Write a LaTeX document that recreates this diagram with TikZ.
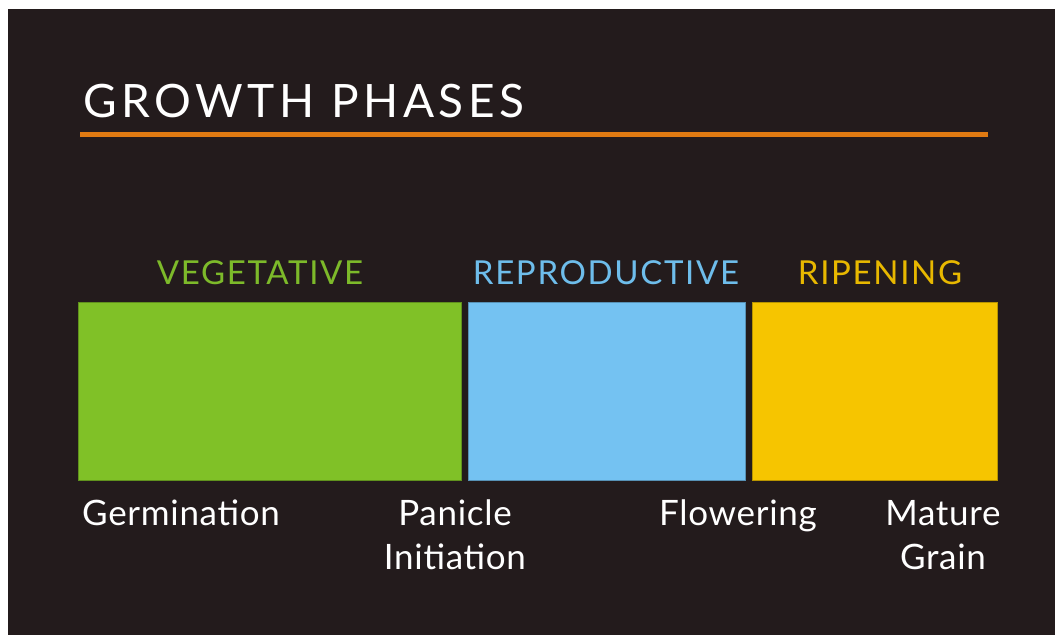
\documentclass[tikz,border=0pt]{standalone}
\usepackage{fontspec}
\setmainfont{Lato}
\usetikzlibrary{positioning}
\definecolor{bgdark}{RGB}{35,27,28}
\definecolor{rulecol}{RGB}{224,122,18}
\definecolor{vegcol}{RGB}{128,193,39}
\definecolor{repcol}{RGB}{116,194,242}
\definecolor{ripcol}{RGB}{246,197,0}
\definecolor{vegtext}{RGB}{125,186,42}
\definecolor{reptext}{RGB}{110,189,235}
\definecolor{riptext}{RGB}{232,184,0}
\tikzset{
	every node/.style = {font=\fontsize{35}{44}\selectfont\addfontfeatures{LetterSpace=2}, text=white, inner sep=0pt},
	phasebox/.style = {draw=#1!75!black, fill=#1, line width=1pt, outer sep=0pt, minimum height=178pt},
	phasetitle/.style = {anchor=base, font=\fontsize{33}{40}\selectfont\addfontfeatures{LetterSpace=5}},
	stage/.style = {align=center, anchor=base}
}

\begin{document}
\begin{tikzpicture}[x=1pt,y=-1pt]
	\fill[white] (0,0) rectangle (1055,635);
	\fill[bgdark] (8,9) rectangle (1055,635);
	\useasboundingbox (0,0) rectangle (1055,635);

	% title and rule
	\node[anchor=base west, font=\fontsize{46}{50}\selectfont\addfontfeatures{LetterSpace=10}] (title) at (83,117) {GROWTH PHASES};
	\draw[rulecol, line width=5pt] (80,134) -- (988,134);

	% phase boxes
	\node[phasebox=vegcol, minimum width=383pt] (veg) at (269.5,391) {};
	\node[phasebox=repcol, minimum width=277pt, right=7pt of veg] (rep) {};
	\node[phasebox=ripcol, minimum width=245pt, right=7pt of rep] (rip) {};

	\node[phasetitle, text=vegtext] (vegtitle) at (260,284) {VEGETATIVE};
	\node[phasetitle, text=reptext] (reptitle) at (606,284) {REPRODUCTIVE};
	\node[phasetitle, text=riptext] (riptitle) at (880,284) {RIPENING};

	% stages
	\node[stage, anchor=base west] (germ) at (82,525) {Germination};
	\node[stage] (panicle) at (455,569) {Panicle\\Initiation};
	\node[stage] (flower) at (738,525) {Flowering};
	\node[stage] (mature) at (943,569) {Mature\\Grain};
\end{tikzpicture}
\end{document}
